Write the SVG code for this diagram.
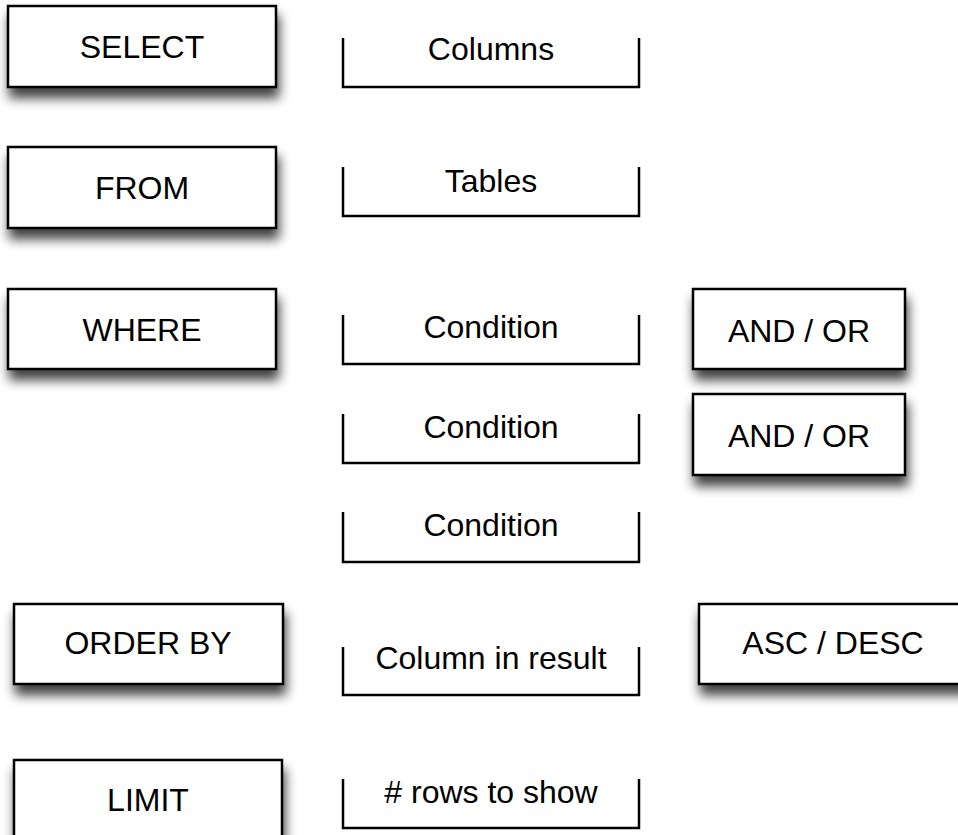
<svg xmlns="http://www.w3.org/2000/svg" width="958" height="835" viewBox="0 0 958 835">
<style>
.box{fill:#fff;stroke:#000;stroke-width:2.5;filter:url(#sh)}
.br{fill:none;stroke:#000;stroke-width:2.5}
text{font-family:"Liberation Sans",Arial,sans-serif;font-size:32px;fill:#000;text-anchor:middle}
</style>
<defs>
<filter id="sh" x="-10%" y="-20%" width="125%" height="160%">
<feGaussianBlur in="SourceAlpha" stdDeviation="6"/>
<feOffset dx="2" dy="10" result="b"/>
<feComponentTransfer><feFuncA type="linear" slope="0.75"/></feComponentTransfer>
<feMerge><feMergeNode/><feMergeNode in="SourceGraphic"/></feMerge>
</filter>
</defs>
<rect width="958" height="835" fill="#fff"/>
<g id="select"><rect class="box" x="8" y="6" width="268" height="81"/><text x="142" y="58">SELECT</text></g>
<g id="from"><rect class="box" x="8" y="147" width="268" height="81"/><text x="142" y="199">FROM</text></g>
<g id="where"><rect class="box" x="8" y="289" width="268" height="80"/><text x="142" y="341">WHERE</text></g>
<g id="orderby"><rect class="box" x="14" y="604" width="269" height="80"/><text x="148" y="654">ORDER BY</text></g>
<g id="limit"><rect class="box" x="14" y="760" width="268" height="80"/><text x="148" y="811">LIMIT</text></g>
<g id="columns"><path class="br" d="M343,38V87H639V38"/><text x="491" y="60">Columns</text></g>
<g id="tables"><path class="br" d="M343,167V216H639V167"/><text x="491" y="192">Tables</text></g>
<g id="cond1"><path class="br" d="M343,315V364H639V315"/><text x="491" y="338">Condition</text></g>
<g id="cond2"><path class="br" d="M343,414V463H639V414"/><text x="491" y="438">Condition</text></g>
<g id="cond3"><path class="br" d="M343,512V562H639V512"/><text x="491" y="536">Condition</text></g>
<g id="colresult"><path class="br" d="M343,647V695H639V647"/><text x="491" y="669">Column in result</text></g>
<g id="rows"><path class="br" d="M343,779V828H639V779"/><text x="491" y="803"># rows to show</text></g>
<g id="andor1"><rect class="box" x="693" y="289" width="212" height="80"/><text x="799" y="342">AND / OR</text></g>
<g id="andor2"><rect class="box" x="693" y="394" width="212" height="81"/><text x="799" y="447">AND / OR</text></g>
<g id="ascdesc"><rect class="box" x="699" y="604" width="269" height="80"/><text x="833" y="654">ASC / DESC</text></g>
<g id="connectors"></g>
</svg>
